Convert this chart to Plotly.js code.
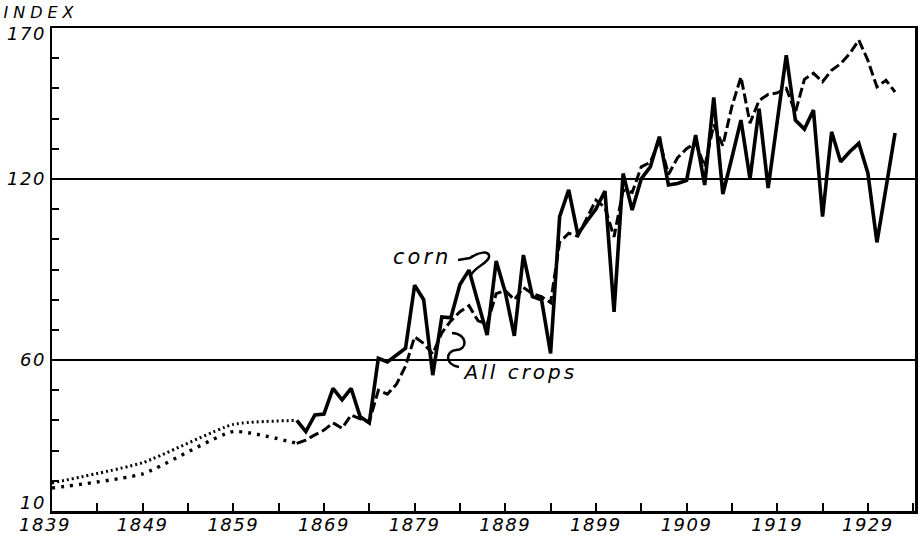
<!DOCTYPE html>
<html>
<head>
<meta charset="utf-8">
<script src="https://cdn.plot.ly/plotly-3.0.1.min.js"></script>
<style>
  html, body { margin: 0; padding: 0; background: #fff; }
  #chart { width: 920px; height: 536px; }
  .main-svg text { letter-spacing: 1.5px; font-style: italic !important; }
</style>
</head>
<body>
<div id="chart"></div>
<script>
// ---- data ----
const censusYears = [1839, 1849, 1859, 1866];
const cornCensus = [19.3, 26.0, 38.7, 40.0];
const allCropsCensus = [17.6, 22.3, 36.3, 32.4];

const annualYears = [
  1866, 1867, 1868, 1869, 1870, 1871, 1872, 1873, 1874, 1875,
  1876, 1877, 1878, 1879, 1880, 1881, 1882, 1883, 1884, 1885,
  1886, 1887, 1888, 1889, 1890, 1891, 1892, 1893, 1894, 1895,
  1896, 1897, 1898, 1899, 1900, 1901, 1902, 1903, 1904, 1905,
  1906, 1907, 1908, 1909, 1910, 1911, 1912, 1913, 1914, 1915,
  1916, 1917, 1918, 1919, 1920, 1921, 1922, 1923, 1924, 1925,
  1926, 1927, 1928, 1929, 1930, 1931, 1932
];
const cornAnnual = [
  40.0, 36.3, 41.8, 42.1, 50.6, 46.8, 50.6, 41.2, 39.2, 60.6,
  59.4, 61.7, 63.9, 84.8, 80.0, 55.0, 74.3, 74.0, 85.0, 89.8,
  78.5, 68.3, 92.8, 82.5, 68.0, 94.8, 81.0, 80.0, 62.2, 107.5,
  116.4, 101.7, 106.0, 110.0, 116.0, 76.0, 121.8, 109.7, 120.0, 124.0,
  134.0, 118.0, 118.5, 119.5, 134.5, 118.0, 147.0, 115.0, 127.0, 139.5,
  120.0, 143.3, 117.0, 139.0, 161.0, 139.5, 136.5, 142.8, 107.5, 135.6,
  125.7, 129.0, 131.8, 122.0, 99.0, 117.0, 135.2
];
const allCropsAnnual = [
  32.4, 33.5, 35.2, 36.8, 39.2, 37.4, 41.8, 40.5, 39.6, 50.0,
  48.7, 52.0, 58.0, 67.7, 65.5, 62.0, 69.0, 73.0, 76.0, 78.0,
  73.0, 72.0, 82.0, 83.0, 80.0, 84.0, 82.0, 81.0, 79.0, 99.0,
  102.0, 101.0, 107.0, 113.0, 110.5, 100.8, 116.3, 115.5, 124.0, 125.5,
  132.8, 121.5, 127.0, 130.0, 132.0, 124.0, 138.0, 131.0, 144.0, 153.8,
  138.5, 146.0, 148.0, 148.5, 150.0, 142.0, 153.0, 155.0, 152.2, 156.0,
  158.2, 161.5, 166.0, 159.3, 150.5, 152.7, 148.8
];

const xTickYears = [1839, 1849, 1859, 1869, 1879, 1889, 1899, 1909, 1919, 1929];
const xTickLabels = ["1839", "1849", "1859", "1869", "1879", "1889", "1899", "1909", "1919", "1929"];
const xGridYears = [1869, 1899];
const yTickValues = [10, 60, 120, 170];
const yTickLabels = ["10", "60", "120", "170"];

// ---- styling ----
const INK = "#000000";
const FONT = "DejaVu Sans, Liberation Sans, sans-serif";
const tickFont = { family: FONT, size: 18, color: INK, style: "italic" };

// plot-area pixel geometry (for the small hand-drawn label pointers)
const M = { l: 52, r: 5, t: 28, b: 25 };
const W = 920, H = 536;
const PW = W - M.l - M.r, PH = H - M.t - M.b;
function px(x) { return ((x - M.l) / PW).toFixed(4); }
function py(y) { return ((H - M.b - y) / PH).toFixed(4); }
function pathFrom(pts) {
  let s = "";
  for (const seg of pts) {
    s += seg[0];
    for (let i = 1; i < seg.length; i += 2) s += " " + px(seg[i]) + "," + py(seg[i + 1]);
    s += " ";
  }
  return s.trim();
}

const traces = [
  { x: censusYears, y: cornCensus, mode: "lines", name: "Corn (census years)",
    line: { color: INK, width: 3, dash: "2px,3px", shape: "spline", smoothing: 0.5 }, hoverinfo: "skip" },
  { x: censusYears, y: allCropsCensus, mode: "lines", name: "All crops (census years)",
    line: { color: INK, width: 3.4, dash: "3px,6px", shape: "spline", smoothing: 0.5 }, hoverinfo: "skip" },
  { x: annualYears, y: allCropsAnnual, mode: "lines", name: "All crops",
    line: { color: INK, width: 3, dash: "10px,4px" }, hoverinfo: "skip" },
  { x: annualYears, y: cornAnnual, mode: "lines", name: "Corn",
    line: { color: INK, width: 3.6 }, hoverinfo: "skip" }
];

const layout = {
  width: W, height: H,
  margin: M,
  paper_bgcolor: "#ffffff",
  plot_bgcolor: "#ffffff",
  showlegend: false,
  font: { family: FONT, color: INK },
  xaxis: {
    range: [1839, 1934.2],
    tickmode: "array", tickvals: xTickYears, ticktext: xTickLabels,
    ticks: "inside", ticklen: 8, tickwidth: 2, tickcolor: INK,
    ticklabelstandoff: -4,
    minor: { tick0: 1839, dtick: 5, ticks: "inside", ticklen: 8, tickwidth: 2, tickcolor: INK, showgrid: false },
    showgrid: false, zeroline: false,
    showline: true, mirror: true, linecolor: INK, linewidth: 2.5,
    tickfont: tickFont, fixedrange: true
  },
  xaxis2: {
    overlaying: "x", matches: "x", anchor: "y", side: "bottom",
    tickmode: "array", tickvals: xGridYears,
    showticklabels: false, ticks: "",
    showgrid: true, gridcolor: INK, gridwidth: 2,
    showline: false, zeroline: false
  },
  yaxis: {
    range: [10, 170],
    tickmode: "array", tickvals: yTickValues, ticktext: yTickLabels,
    ticks: "inside", ticklen: 8, tickwidth: 2, tickcolor: INK,
    minor: { tick0: 10, dtick: 10, ticks: "inside", ticklen: 7, tickwidth: 2, tickcolor: INK, showgrid: false },
    showgrid: true, gridcolor: INK, gridwidth: 2,
    zeroline: false,
    showline: true, mirror: true, linecolor: INK, linewidth: 2.5,
    tickfont: tickFont, fixedrange: true
  },
  annotations: [
    { text: "INDEX", xref: "paper", yref: "paper", x: px(14), y: py(1),
      xanchor: "left", yanchor: "top", showarrow: false,
      font: { family: FONT, size: 16, color: INK, style: "italic" } },
    { text: "corn", xref: "x", yref: "y", x: 1879.8, y: 94.0,
      xanchor: "center", yanchor: "middle", showarrow: false,
      font: { family: FONT, size: 21, color: INK, style: "italic" } },
    { text: "All crops", xref: "x", yref: "y", x: 1890.6, y: 56.2,
      xanchor: "center", yanchor: "middle", showarrow: false,
      font: { family: FONT, size: 20, color: INK, style: "italic" } }
  ],
  shapes: [
    { type: "path", xref: "paper", yref: "paper",
      path: pathFrom([["M", 458, 260], ["L", 470, 258], ["C", 478, 252, 490, 250, 489, 257], ["C", 488, 264, 474, 266, 470, 277]]),
      line: { color: INK, width: 2.5 } },
    { type: "path", xref: "paper", yref: "paper",
      path: pathFrom([["M", 452, 333], ["C", 468, 334, 468, 350, 456, 350], ["C", 445, 351, 445, 365, 459, 367]]),
      line: { color: INK, width: 2.5 } }
  ]
};

function nudge(el, dx, dy) {
  const t = el.getAttribute("transform") || "";
  el.setAttribute("transform", t + " translate(" + dx + "," + dy + ")");
}

Plotly.newPlot("chart", traces, layout, { staticPlot: true, displayModeBar: false }).then(function () {
  document.querySelectorAll(".annotation-text").forEach(function (t) {
    const txt = t.textContent;
    t.style.letterSpacing = txt === "INDEX" ? "5px" : "3px";
  });
  // the hand-lettered end labels sit slightly inside the frame
  document.querySelectorAll(".ytick text").forEach(function (t) {
    if (t.textContent === "170") nudge(t, 0, 6);
    if (t.textContent === "10") nudge(t, 0, -8);
  });
  document.querySelectorAll(".xtick text").forEach(function (t) {
    if (t.textContent === "1839") nudge(t, -7, 0);
  });
});
</script>
</body>
</html>
